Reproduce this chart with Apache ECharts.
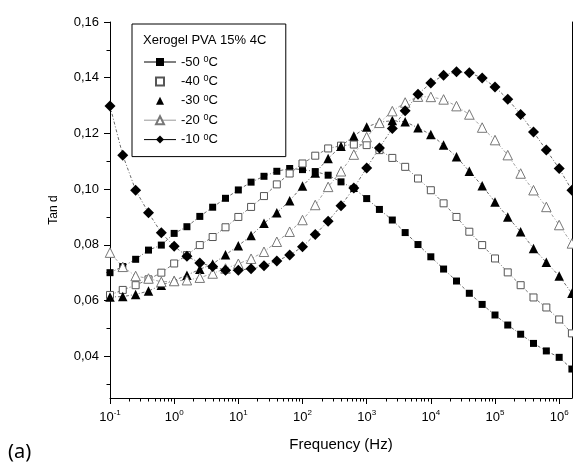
<!DOCTYPE html>
<html><head><meta charset="utf-8">
<script src="https://cdn.jsdelivr.net/npm/echarts@6/dist/echarts.min.js"></script>
<style>html,body{margin:0;padding:0;background:#fff}#c{width:573px;height:465px}</style>
</head><body><div id="c"></div>
<script>
// Frequencies (Hz), 5 points per decade
const freqs = [0.1, 0.158, 0.251, 0.398, 0.631, 1, 1.58, 2.51, 3.98, 6.31,
  10, 15.8, 25.1, 39.8, 63.1, 100, 158, 251, 398, 631,
  1000, 1580, 2510, 3980, 6310, 1e4, 1.58e4, 2.51e4, 3.98e4, 6.31e4,
  1e5, 1.58e5, 2.51e5, 3.98e5, 6.31e5, 1e6, 1.58e6];

const tanM50 = [0.0700, 0.0722, 0.0748, 0.0781, 0.0799, 0.0841, 0.0865, 0.0902, 0.0935, 0.0967,
  0.0997, 0.1025, 0.1046, 0.1064, 0.1074, 0.1070, 0.1063, 0.1050, 0.1026, 0.1002,
  0.0966, 0.0927, 0.0889, 0.0844, 0.0801, 0.0757, 0.0713, 0.0670, 0.0626, 0.0586,
  0.0548, 0.0512, 0.0479, 0.0446, 0.0419, 0.0396, 0.0354];
const tanM40 = [0.0620, 0.0638, 0.0655, 0.0676, 0.0700, 0.0733, 0.0763, 0.0799, 0.0828, 0.0863,
  0.0900, 0.0936, 0.0975, 0.1017, 0.1056, 0.1092, 0.1120, 0.1146, 0.1156, 0.1160,
  0.1158, 0.1140, 0.1112, 0.1080, 0.1038, 0.0996, 0.0949, 0.0900, 0.0847, 0.0799,
  0.0751, 0.0701, 0.0655, 0.0611, 0.0575, 0.0532, 0.0482];
const tanM30 = [0.0613, 0.0614, 0.0622, 0.0634, 0.0655, 0.0672, 0.0691, 0.0712, 0.0731, 0.0764,
  0.0797, 0.0833, 0.0877, 0.0915, 0.0958, 0.1011, 0.1058, 0.1110, 0.1154, 0.1191,
  0.1223, 0.1240, 0.1246, 0.1242, 0.1220, 0.1196, 0.1158, 0.1116, 0.1064, 0.1012,
  0.0954, 0.0900, 0.0847, 0.0787, 0.0737, 0.0688, 0.0626];
const tanM20 = [0.0772, 0.0721, 0.0688, 0.0679, 0.0667, 0.0670, 0.0673, 0.0682, 0.0697, 0.0715,
  0.0732, 0.0750, 0.0775, 0.0811, 0.0847, 0.0889, 0.0943, 0.1008, 0.1064, 0.1124,
  0.1187, 0.1238, 0.1280, 0.1311, 0.1332, 0.1331, 0.1322, 0.1298, 0.1268, 0.1221,
  0.1176, 0.1122, 0.1056, 0.0996, 0.0936, 0.0871, 0.0805];
const tanM10 = [0.1298, 0.1122, 0.0996, 0.0915, 0.0843, 0.0795, 0.0759, 0.0735, 0.0722, 0.0709,
  0.0709, 0.0714, 0.0725, 0.0742, 0.0763, 0.0793, 0.0837, 0.0885, 0.0940, 0.1004,
  0.1076, 0.1148, 0.1218, 0.1281, 0.1341, 0.1381, 0.1409, 0.1421, 0.1418, 0.1399,
  0.1367, 0.1323, 0.1268, 0.1205, 0.1140, 0.1074, 0.0996];

const seriesNames = ['-50 °C', '-40 °C', '-30 °C', '-20 °C', '-10 °C'];
const legendTitle = 'Xerogel PVA 15% 4C';
const xMajorTicks = [0.1, 1, 10, 100, 1e3, 1e4, 1e5, 1e6];
const yTicks = [0.04, 0.06, 0.08, 0.10, 0.12, 0.14, 0.16];
const yMinorTicks = [0.03, 0.05, 0.07, 0.09, 0.11, 0.13, 0.15];

const FONT = '"Liberation Sans", Arial, sans-serif';
const lg = v => Math.log10(v);
const xMajor = xMajorTicks.map(lg);
const xMinor = [];
xMajorTicks.forEach(d => { for (let m = 2; m <= 9; m++) { const t = lg(d * m); if (t <= 6.2) xMinor.push(t); } });

const pairs = arr => freqs.map((f, i) => [lg(f), arr[i]]);
const dash = [3, 2, 1, 2];
const mk = (name, arr, symbol, size, itemStyle, lineColor) => ({
  name, type: 'line', data: pairs(arr), xAxisIndex: 0, yAxisIndex: 0,
  symbol, symbolSize: size, itemStyle,
  lineStyle: { width: 0.8, color: lineColor, type: dash },
  emphasis: { disabled: true }
});

const chart = echarts.init(document.getElementById('c'));
chart.setOption({
  animation: false,
  backgroundColor: '#fff',
  textStyle: { fontFamily: FONT },
  grid: { left: 110, right: 1, top: 22, bottom: 67 },
  title: {
    text: legendTitle, left: 143, top: 34, padding: 0, z: 10,
    textStyle: { fontFamily: FONT, fontSize: 13, fontWeight: 'normal', color: '#000' }
  },
  legend: {
    orient: 'vertical', left: 132, top: 24,
    padding: [31, 68, 10, 11],
    borderColor: '#000', borderWidth: 1, backgroundColor: 'transparent',
    itemWidth: 32, itemHeight: 10, itemGap: 5.4,
    selectedMode: false,
    textStyle: {
      fontFamily: FONT, fontSize: 13, color: '#000', lineHeight: 14,
      rich: {
        n: { fontFamily: FONT, fontSize: 13, color: '#000', lineHeight: 14 },
        s: { fontFamily: FONT, fontSize: 9, color: '#000', lineHeight: 2, verticalAlign: 'top' }
      }
    },
    formatter: name => '{n|' + name.replace(' °C', '') + ' }{s|0}{n|C}',
    data: [
      { name: seriesNames[0], lineStyle: { type: 'solid', color: '#000', width: 1 } },
      { name: seriesNames[1], lineStyle: { opacity: 0 } },
      { name: seriesNames[2], lineStyle: { opacity: 0 } },
      { name: seriesNames[3], lineStyle: { type: 'solid', color: '#999', width: 1 } },
      { name: seriesNames[4], lineStyle: { type: 'solid', color: '#000', width: 1 } }
    ]
  },
  graphic: [{
    type: 'text', left: 8, top: 442,
    style: { text: '(a)', font: '20px "Noto Sans"', fill: '#000' }
  }],
  xAxis: [{
    type: 'value', min: -1, max: 6.2, position: 'bottom',
    axisLine: { onZero: false, lineStyle: { color: '#000', width: 1 } },
    axisTick: { customValues: xMajor, length: 6, lineStyle: { color: '#000' } },
    splitLine: { show: false },
    axisLabel: {
      customValues: xMajor, margin: 11, color: '#000',
      formatter: v => '{b|10}{s|' + Math.round(v) + '}',
      rich: {
        b: { fontFamily: FONT, fontSize: 13, color: '#000', lineHeight: 16 },
        s: { fontFamily: FONT, fontSize: 8, color: '#000', lineHeight: 7, verticalAlign: 'top' }
      }
    },
    name: 'Frequency (Hz)', nameLocation: 'middle', nameGap: 39,
    nameTextStyle: { fontFamily: FONT, fontSize: 15, color: '#000' }
  }, {
    type: 'value', min: -1, max: 6.2, position: 'bottom',
    axisLine: { show: false, onZero: false },
    axisTick: { customValues: xMinor, length: 3.5, lineStyle: { color: '#000' } },
    axisLabel: { show: false },
    splitLine: { show: false }
  }],
  yAxis: [{
    type: 'value', min: 0.025, max: 0.16, position: 'left',
    axisLine: { show: true, onZero: false, lineStyle: { color: '#000', width: 1 } },
    axisTick: { show: true, customValues: yTicks, length: 6, lineStyle: { color: '#000' } },
    splitLine: { show: false },
    axisLabel: {
      customValues: yTicks, margin: 11, color: '#000', fontFamily: FONT, fontSize: 13,
      formatter: v => v.toFixed(2).replace('.', ',')
    },
    name: 'Tan d', nameLocation: 'middle', nameGap: 50,
    nameTextStyle: { fontFamily: FONT, fontSize: 12, color: '#000' }
  }, {
    type: 'value', min: 0.025, max: 0.16, position: 'left',
    axisLine: { show: false, onZero: false },
    axisTick: { show: true, customValues: yMinorTicks, length: 3.5, lineStyle: { color: '#000' } },
    axisLabel: { show: false },
    splitLine: { show: false }
  }, {
    type: 'value', min: 0.025, max: 0.16, position: 'right',
    axisLine: { show: true, onZero: false, lineStyle: { color: '#000', width: 1 } },
    axisTick: { show: false }, axisLabel: { show: false }, splitLine: { show: false }
  }],
  series: [
    mk(seriesNames[0], tanM50, 'rect', 7, { color: '#000' }, '#444'),
    mk(seriesNames[1], tanM40, 'rect', 7, { color: '#fff', borderColor: '#555', borderWidth: 1 }, '#555'),
    mk(seriesNames[2], tanM30, 'triangle', 9.5, { color: '#000' }, '#444'),
    mk(seriesNames[3], tanM20, 'triangle', 9.5, { color: '#fff', borderColor: '#777', borderWidth: 1 }, '#888'),
    mk(seriesNames[4], tanM10, 'diamond', 11, { color: '#000' }, '#444')
  ]
});
</script></body></html>
